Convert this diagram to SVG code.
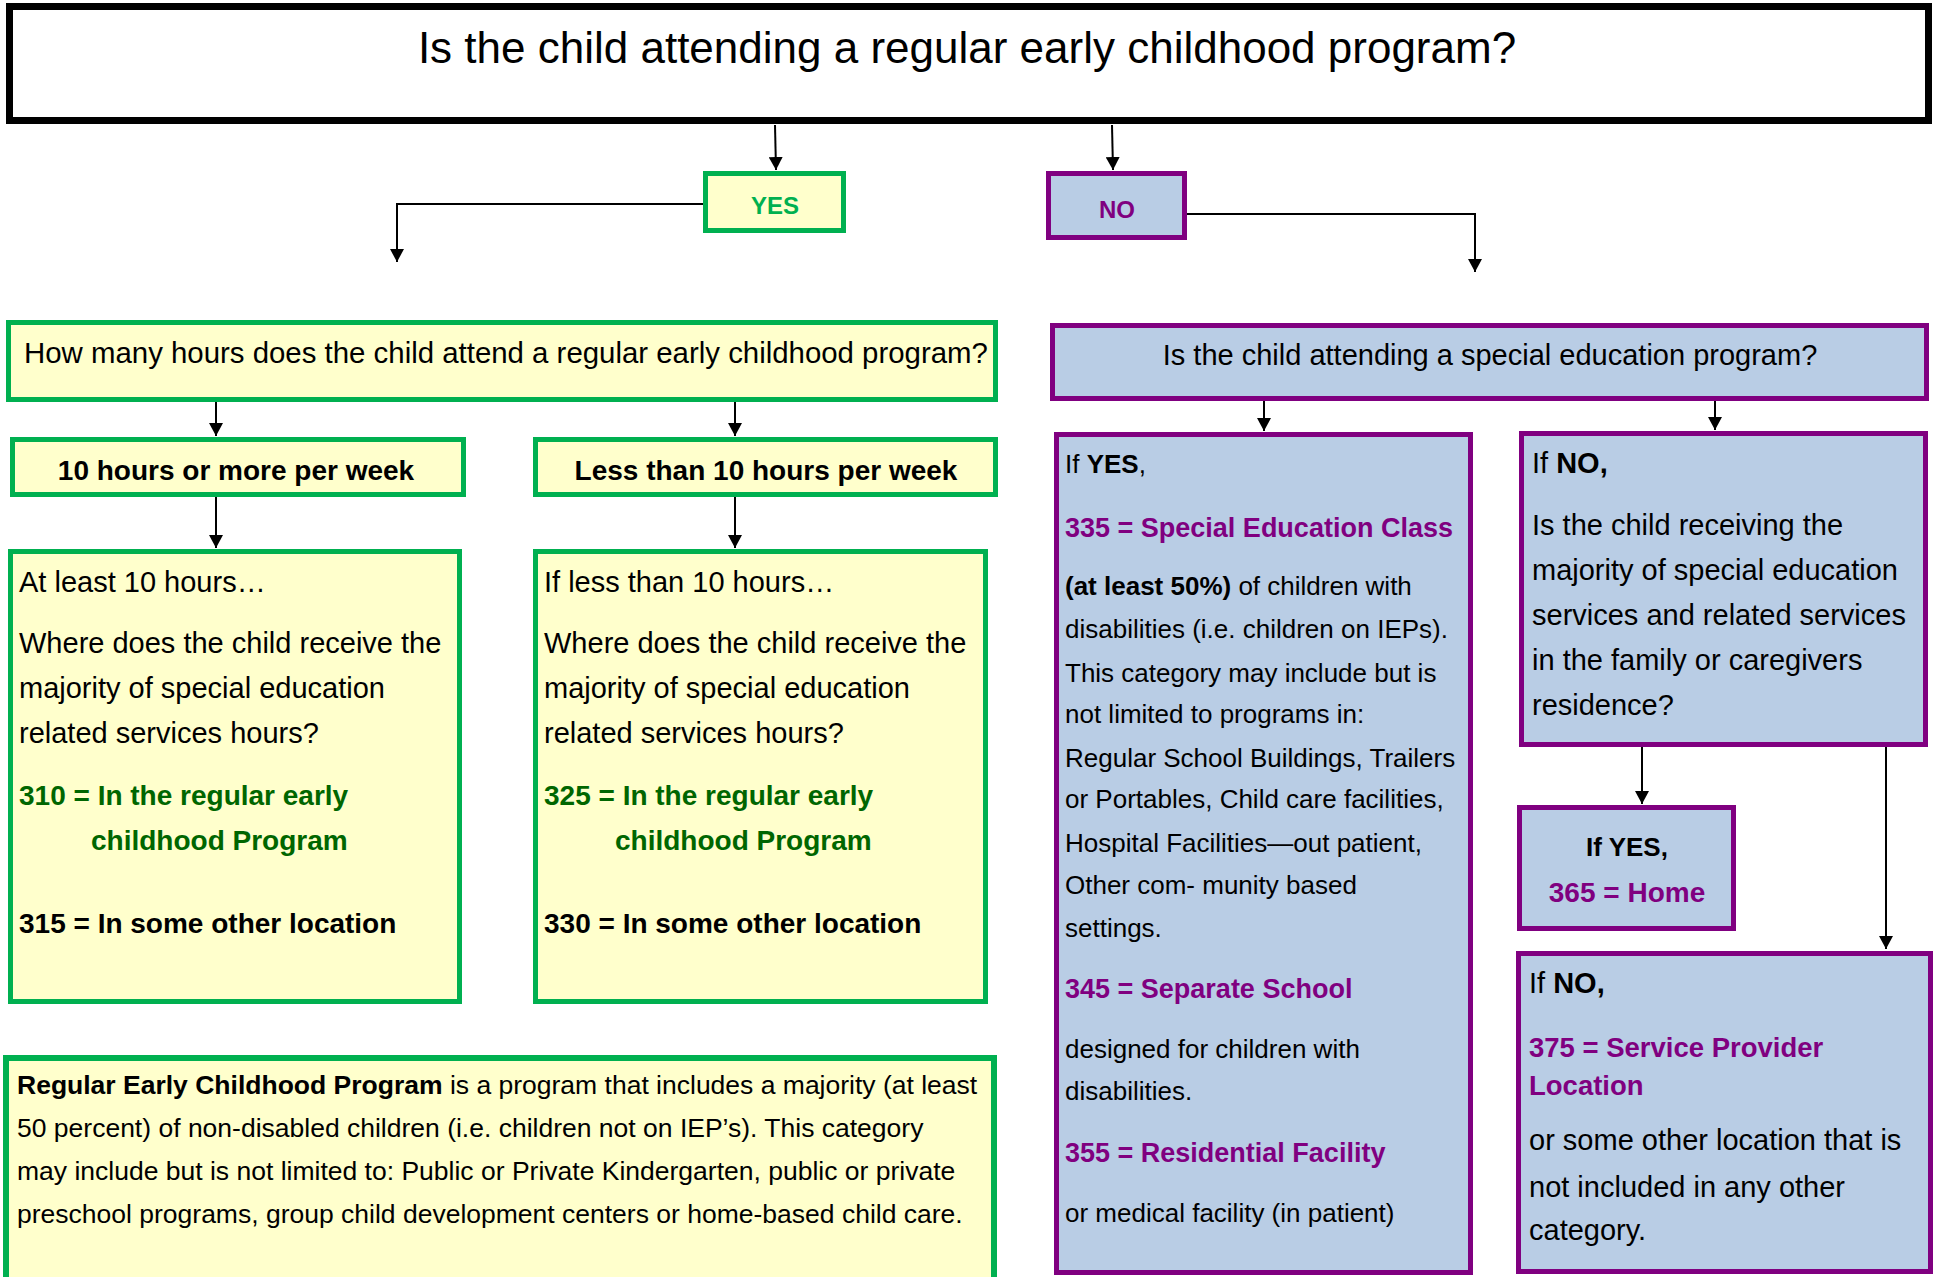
<svg xmlns="http://www.w3.org/2000/svg" width="1939" height="1277" viewBox="0 0 1939 1277">
<defs>
<style>
text{font-family:"Liberation Sans",Arial,sans-serif;fill:#000}
.g{fill:#FFFFCC;stroke:#00B050;stroke-width:5}
.p{fill:#B9CDE5;stroke:#800080;stroke-width:5}
.b{font-weight:bold}
.dg{fill:#006600}
.pu{fill:#800080}
.c{text-anchor:middle}
.t29{font-size:29px}
.t26{font-size:26px}
.t25{font-size:26.5px}
.conn{fill:none;stroke:#000;stroke-width:2}
</style>
<marker id="ah" markerUnits="userSpaceOnUse" markerWidth="16" markerHeight="14" refX="13" refY="7" orient="auto">
<path d="M0,0 L13,7 L0,14 Z" fill="#000"/>
</marker>
</defs>

<g id="connectors">
<line class="conn" x1="775" y1="125" x2="776" y2="170" marker-end="url(#ah)"/>
<line class="conn" x1="1112" y1="125" x2="1113" y2="170" marker-end="url(#ah)"/>
<polyline class="conn" points="703,204 397,204 397,262" marker-end="url(#ah)"/>
<polyline class="conn" points="1187,214 1475,214 1475,272" marker-end="url(#ah)"/>
<line class="conn" x1="216" y1="402" x2="216" y2="436" marker-end="url(#ah)"/>
<line class="conn" x1="735" y1="402" x2="735" y2="436" marker-end="url(#ah)"/>
<line class="conn" x1="216" y1="497" x2="216" y2="548" marker-end="url(#ah)"/>
<line class="conn" x1="735" y1="497" x2="735" y2="548" marker-end="url(#ah)"/>
<line class="conn" x1="1264" y1="401" x2="1264" y2="431" marker-end="url(#ah)"/>
<line class="conn" x1="1715" y1="401" x2="1715" y2="430" marker-end="url(#ah)"/>
<line class="conn" x1="1642" y1="747" x2="1642" y2="804" marker-end="url(#ah)"/>
<line class="conn" x1="1886" y1="747" x2="1886" y2="949" marker-end="url(#ah)"/>
</g>

<g id="title">
<rect x="9.5" y="6.5" width="1919" height="114" fill="#fff" stroke="#000" stroke-width="7"/>
<text x="967" y="63" class="c" font-size="44">Is the child attending a regular early childhood program?</text>
</g>

<g id="yes">
<rect class="g" x="705.5" y="173.5" width="138" height="57"/>
<text x="775" y="214" class="c b" font-size="24" style="fill:#00B050">YES</text>
</g>

<g id="no">
<rect class="p" x="1048.5" y="173.5" width="136" height="64"/>
<text x="1117" y="218" class="c b pu" font-size="24">NO</text>
</g>

<g id="how-many">
<rect class="g" x="8.5" y="322.5" width="987" height="77"/>
<text x="24" y="363" font-size="29.4">How many hours does the child attend a regular early childhood program?</text>
</g>

<g id="ten-or-more">
<rect class="g" x="12.5" y="439.5" width="451" height="55"/>
<text x="236" y="480" class="c b" font-size="28">10 hours or more per week</text>
</g>

<g id="less-than-ten">
<rect class="g" x="535.5" y="439.5" width="460" height="55"/>
<text x="766" y="480" class="c b" font-size="28">Less than 10 hours per week</text>
</g>

<g id="at-least">
<rect class="g" x="10.5" y="551.5" width="449" height="450"/>
<text x="19" y="592" class="t29">At least 10 hours…</text>
<text x="19" y="653" class="t29">Where does the child receive the</text>
<text x="19" y="698" class="t29">majority of special education</text>
<text x="19" y="743" class="t29">related services hours?</text>
<text x="19" y="805" class="b dg" font-size="28">310 = In the regular early</text>
<text x="91" y="850" class="b dg" font-size="28">childhood Program</text>
<text x="19" y="933" class="b" font-size="28">315 = In some other location</text>
</g>

<g id="if-less">
<rect class="g" x="535.5" y="551.5" width="450" height="450"/>
<text x="544" y="592" class="t29">If less than 10 hours…</text>
<text x="544" y="653" class="t29">Where does the child receive the</text>
<text x="544" y="698" class="t29">majority of special education</text>
<text x="544" y="743" class="t29">related services hours?</text>
<text x="544" y="805" class="b dg" font-size="28">325 = In the regular early</text>
<text x="615" y="850" class="b dg" font-size="28">childhood Program</text>
<text x="544" y="933" class="b" font-size="28">330 = In some other location</text>
</g>

<g id="definition">
<rect x="6" y="1058" width="988" height="240" fill="#FFFFCC" stroke="#00B050" stroke-width="6"/>
<text x="17" y="1094" class="t25"><tspan class="b">Regular Early Childhood Program</tspan> is a program that includes a majority (at least</text>
<text x="17" y="1137" class="t25">50 percent) of non-disabled children (i.e. children not on IEP’s). This category</text>
<text x="17" y="1180" class="t25">may include but is not limited to: Public or Private Kindergarten, public or private</text>
<text x="17" y="1223" class="t25">preschool programs, group child development centers or home-based child care.</text>
</g>

<g id="special-ed">
<rect class="p" x="1052.5" y="325.5" width="874" height="73"/>
<text x="1490" y="365" class="c t29">Is the child attending a special education program?</text>
</g>

<g id="if-yes-special">
<rect class="p" x="1056.5" y="434.5" width="414" height="838"/>
<text x="1065" y="473" class="t26">If <tspan class="b">YES</tspan>,</text>
<text x="1065" y="537" class="b pu" font-size="27">335 = Special Education Class</text>
<text x="1065" y="595" class="t26"><tspan class="b">(at least 50%)</tspan> of children with</text>
<text x="1065" y="638" class="t26">disabilities (i.e. children on IEPs).</text>
<text x="1065" y="682" class="t26">This category may include but is</text>
<text x="1065" y="723" class="t26">not limited to programs in:</text>
<text x="1065" y="767" class="t26">Regular School Buildings, Trailers</text>
<text x="1065" y="808" class="t26">or Portables, Child care facilities,</text>
<text x="1065" y="852" class="t26">Hospital Facilities—out patient,</text>
<text x="1065" y="894" class="t26">Other com- munity based</text>
<text x="1065" y="937" class="t26">settings.</text>
<text x="1065" y="998" class="b pu" font-size="27">345 = Separate School</text>
<text x="1065" y="1058" class="t26">designed for children with</text>
<text x="1065" y="1100" class="t26">disabilities.</text>
<text x="1065" y="1162" class="b pu" font-size="27">355 = Residential Facility</text>
<text x="1065" y="1222" class="t26">or medical facility (in patient)</text>
</g>

<g id="if-no-special">
<rect class="p" x="1521.5" y="433.5" width="404" height="311"/>
<text x="1532" y="473" class="t29">If <tspan class="b">NO,</tspan></text>
<text x="1532" y="535" class="t29">Is the child receiving the</text>
<text x="1532" y="580" class="t29">majority of special education</text>
<text x="1532" y="625" class="t29">services and related services</text>
<text x="1532" y="670" class="t29">in the family or caregivers</text>
<text x="1532" y="715" class="t29">residence?</text>
</g>

<g id="home">
<rect class="p" x="1519.5" y="807.5" width="214" height="121"/>
<text x="1627" y="856" class="c b" font-size="26">If YES,</text>
<text x="1627" y="902" class="c b pu" font-size="28">365 = Home</text>
</g>

<g id="service-provider">
<rect class="p" x="1518.5" y="953.5" width="412" height="318"/>
<text x="1529" y="993" class="t29">If <tspan class="b">NO,</tspan></text>
<text x="1529" y="1057" class="b pu" font-size="27.5">375 = Service Provider</text>
<text x="1529" y="1095" class="b pu" font-size="27.5">Location</text>
<text x="1529" y="1150" class="t29">or some other location that is</text>
<text x="1529" y="1197" class="t29">not included in any other</text>
<text x="1529" y="1240" class="t29">category.</text>
</g>
</svg>
